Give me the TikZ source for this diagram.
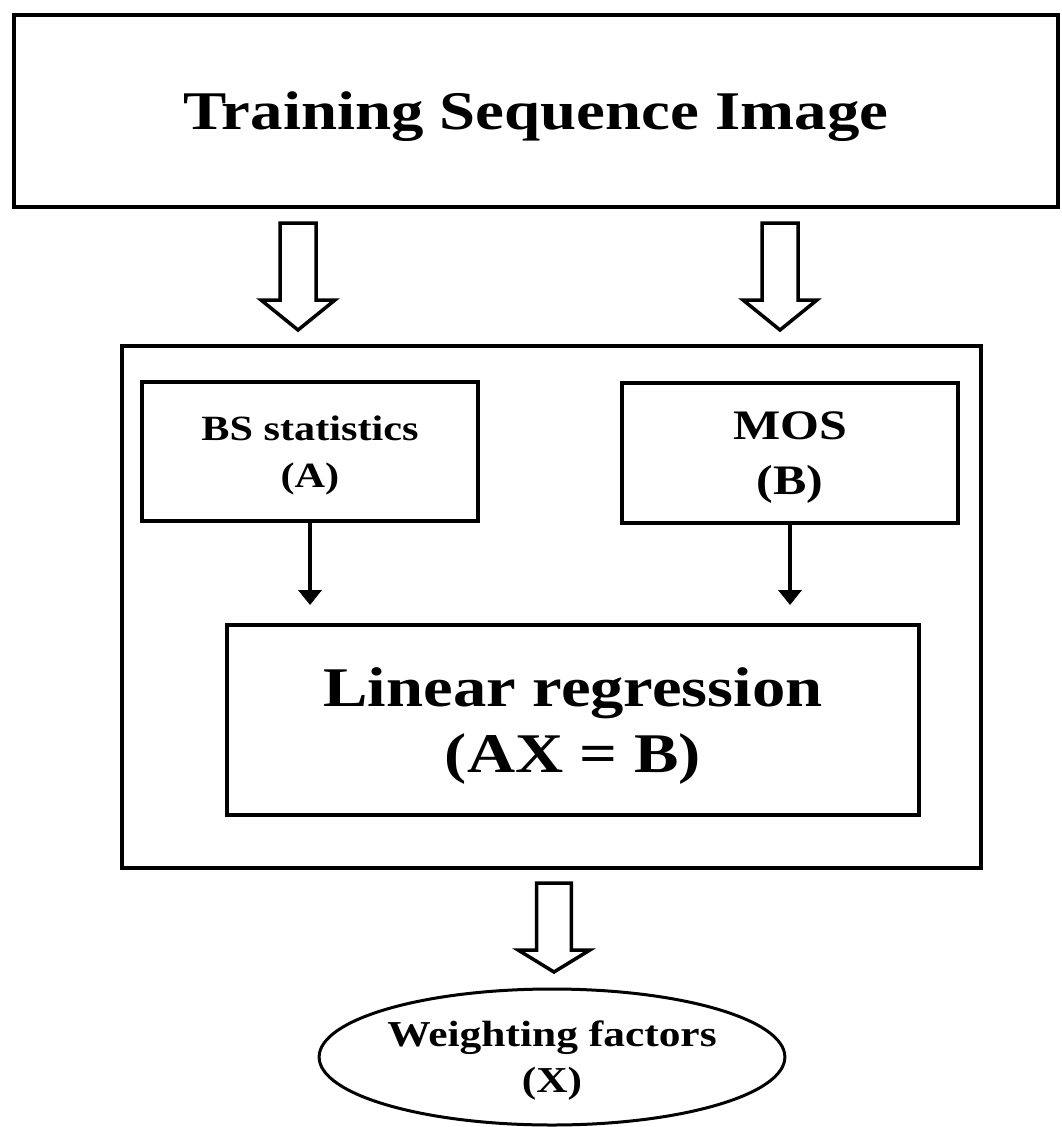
\documentclass[tikz,border=0pt]{standalone}
\usepackage{fontspec}
\setmainfont{Liberation Serif}[FakeStretch=1.19]
\usetikzlibrary{arrows.meta,shapes.geometric}
\tikzset{
  boxnode/.style={draw=black, line width=4pt, fill=white, inner sep=0pt, align=center, text depth=0pt, font=\bfseries},
  smallarrow/.style={line width=3.5pt, -{Triangle[width=23pt,length=15pt]}},
  pics/hollowarrow/.style n args={3}{code={
    % #1 shaft length, #2 head length, #3 scale of widths
    \draw[line width=3.5pt, line join=miter, fill=white]
      (-18*#3,0) -- (-18*#3,#1) -- (-37*#3,#1) -- (0,#1+#2) -- (37*#3,#1) -- (18*#3,#1) -- (18*#3,0) -- cycle;
  }}
}
\begin{document}
\begin{tikzpicture}[x=1pt,y=-1pt]
\useasboundingbox (0,0) rectangle (1061,1127);
\fill[white] (0,0) rectangle (1061,1127);

% top box
\node[boxnode, minimum width=1044pt, minimum height=192pt,
      font=\bfseries\fontsize{54.5}{60}\selectfont] (train) at (536,111) {Training Sequence Image};

% hollow arrows from top box
\coordinate (ha1) at (298,223);
\coordinate (ha2) at (780,223);
\pic at (ha1) {hollowarrow={77}{30}{1}};
\pic at (ha2) {hollowarrow={77}{30}{1}};

% outer box
\node[boxnode, minimum width=859pt, minimum height=522pt] (outer) at (551.5,607) {};

% inner boxes
\node[boxnode, minimum width=336pt, minimum height=139pt,
      font=\bfseries\fontsize{35.5}{47}\selectfont] (bs) at (310,451.5) {BS statistics\\(A)};
\node[boxnode, minimum width=336pt, minimum height=140pt,
      font=\bfseries\fontsize{42}{55}\selectfont] (mos) at (790,453) {MOS\\(B)};
\node[boxnode, minimum width=692pt, minimum height=190pt,
      font=\bfseries\fontsize{56}{66}\selectfont] (lin) at (573,720) {Linear regression\\(AX = B)};

% small arrows
\coordinate (ta) at (310,605);
\coordinate (tb) at (790,605);
\draw[smallarrow] (bs.south) -- (ta);
\draw[smallarrow] (mos.south) -- (tb);

% bottom hollow arrow
\coordinate (ha3) at (554,883);
\pic at (ha3) {hollowarrow={67}{22}{0.97}};

% ellipse
\node[ellipse, draw=black, line width=3pt, inner sep=0pt, minimum width=444pt, minimum height=136pt,
      align=center, text depth=0pt, font=\bfseries\fontsize{36.5}{46}\selectfont] (wf) at (552,1057) {Weighting factors\\(X)};
\end{tikzpicture}
\end{document}
